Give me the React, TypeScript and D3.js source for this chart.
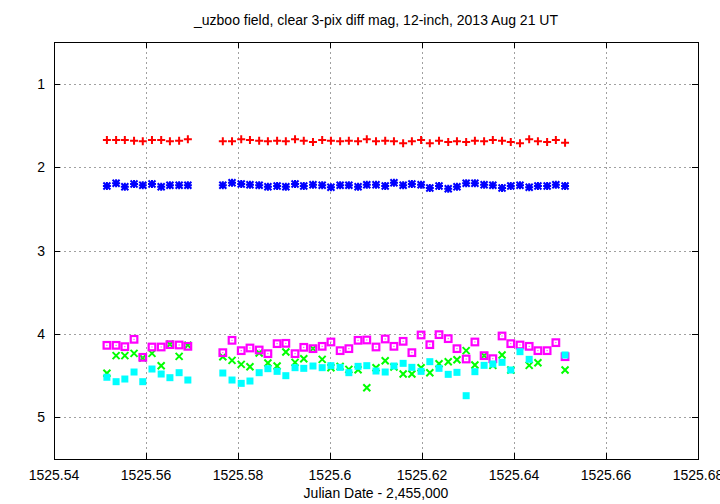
import React from "react";
import * as d3 from "d3";

const title = "_uzboo field, clear 3-pix diff mag, 12-inch, 2013 Aug 21 UT";
const xLabel = "Julian Date - 2,455,000";
const xTicks = [1525.54, 1525.56, 1525.58, 1525.6, 1525.62, 1525.64, 1525.66, 1525.68];
const yTicks = [1, 2, 3, 4, 5];

const times = [
  1525.5515, 1525.5535, 1525.5554, 1525.5574, 1525.5593, 1525.5613, 1525.5633, 1525.5652, 1525.5672, 1525.5691,
  1525.5767, 1525.5787, 1525.5807, 1525.5826, 1525.5846, 1525.5865, 1525.5885, 1525.5904, 1525.5924, 1525.5943,
  1525.5963, 1525.5983, 1525.6002, 1525.6022, 1525.6041, 1525.6061, 1525.608, 1525.61, 1525.612, 1525.6139,
  1525.6159, 1525.6178, 1525.6198, 1525.6217, 1525.6237, 1525.6257, 1525.6276, 1525.6296, 1525.6315, 1525.6335,
  1525.6354, 1525.6374, 1525.6393, 1525.6413, 1525.6433, 1525.6452, 1525.6472, 1525.6491, 1525.6511,
];

const redMag = [
  1.675, 1.675, 1.675, 1.683, 1.691, 1.675, 1.675, 1.691, 1.683, 1.667,
  1.691, 1.691, 1.667, 1.675, 1.683, 1.691, 1.683, 1.691, 1.667, 1.683,
  1.699, 1.675, 1.683, 1.691, 1.683, 1.691, 1.667, 1.691,
  1.683, 1.691, 1.715, 1.691, 1.675, 1.715, 1.683, 1.699, 1.691, 1.699,
  1.683, 1.691, 1.675, 1.683, 1.699, 1.715, 1.667, 1.691, 1.699, 1.675, 1.707,
];

const greenMag: (number | null)[] = [
  4.472, 4.261, 4.261, 4.233, 4.289, 4.233, 4.381, 4.125, 4.269, 4.137,
  4.273, 4.317, 4.365, 4.393, 4.229, 4.349, 4.385, 4.217, 4.341, 4.297, 4.177, 4.305, 4.405,
  4.389, 4.425, 4.429, 4.645, 4.405, 4.321, 4.397, 4.481, 4.481, 4.405, 4.465, 4.357, 4.333,
  4.309, 4.201, 4.373, 4.261, 4.377, 4.253, 4.433, null, 4.377, 4.345, null, null, 4.433,
];

const blueMag = [
  2.227, 2.194, 2.235, 2.203, 2.218, 2.203, 2.235, 2.218, 2.218, 2.218,
  2.218, 2.187, 2.203, 2.211, 2.218, 2.235, 2.227, 2.235, 2.203, 2.227,
  2.211, 2.218, 2.242, 2.218, 2.218, 2.235, 2.211, 2.211,
  2.227, 2.187, 2.218, 2.203, 2.211, 2.251, 2.227, 2.259, 2.235, 2.194,
  2.194, 2.211, 2.218, 2.251, 2.227, 2.218, 2.242, 2.227, 2.227, 2.211, 2.227,
];

const magentaMag = [
  4.137, 4.137, 4.153, 4.065, 4.281, 4.157, 4.157, 4.129, 4.133, 4.149,
  4.225, 4.077, 4.201, 4.169, 4.193, 4.237, 4.117, 4.113, 4.237, 4.161, 4.177, 4.149, 4.097,
  4.201, 4.177, 4.077, 4.073, 4.157, 4.061, 4.149, 4.089, 4.225, 4.013, 4.129, 4.009, 4.057,
  4.177, 4.301, 4.097, 4.261, 4.297, 4.025, 4.117, 4.133, 4.149, 4.201, 4.201, 4.105, 4.273,
];

const cyanMag: (number | null)[] = [
  4.52, 4.573, 4.541, 4.457, 4.573, 4.421, 4.481, 4.525, 4.465, 4.553,
  4.469, 4.553, 4.593, 4.565, 4.465, 4.417, 4.449, 4.501, 4.405, 4.413, 4.385, 4.405, 4.381,
  4.401, 4.465, 4.389, 4.381, 4.445, 4.457, 4.385, 4.353, 4.401, 4.449, 4.333, 4.413, 4.485,
  4.461, 4.741, 4.453, 4.377, 4.361, 4.341, 4.433, 4.213, 4.305, null, null, null, 4.253,
];

const W = 720;
const H = 504;
const L = 54;
const R = 698;
const T = 42;
const B = 459;
const FONT = "'Liberation Sans', Arial, Helvetica, sans-serif";

export default function App() {
  React.useEffect(() => {
    document.body.style.margin = "0";
  }, []);

  const x = d3.scaleLinear().domain([1525.54, 1525.68]).range([L, R]);
  const y = d3.scaleLinear().domain([0.5, 5.5]).range([T, B]);

  const pts = (vals: (number | null)[]) =>
    vals
      .map((v, i) => (v == null ? null : { cx: x(times[i]), cy: y(v), key: i }))
      .filter((p): p is { cx: number; cy: number; key: number } => p !== null);

  const plusPath = (cx: number, cy: number, s: number) =>
    `M${cx - s},${cy}H${cx + s}M${cx},${cy - s}V${cy + s}`;
  const crossPath = (cx: number, cy: number, s: number) =>
    `M${cx - s},${cy - s}L${cx + s},${cy + s}M${cx - s},${cy + s}L${cx + s},${cy - s}`;

  const tick = 6;

  return (
    <svg width={W} height={H} style={{ position: "absolute", left: 0, top: 0, background: "#fff" }}>
      <rect x={0} y={0} width={W} height={H} fill="#fff" />
      {/* grid */}
      <g stroke="#a0a0a0" strokeWidth={1} strokeDasharray="2,3" fill="none">
        {xTicks.slice(1, -1).map((t) => (
          <line key={"gx" + t} x1={Math.round(x(t)) + 0.5} x2={Math.round(x(t)) + 0.5} y1={T} y2={B} />
        ))}
        {yTicks.map((t) => (
          <line key={"gy" + t} x1={L} x2={R} y1={Math.round(y(t)) + 0.5} y2={Math.round(y(t)) + 0.5} />
        ))}
      </g>
      {/* ticks */}
      <g stroke="#000" strokeWidth={1}>
        {xTicks.map((t) => {
          const px = Math.round(x(t)) + 0.5;
          return (
            <g key={"tx" + t}>
              <line x1={px} x2={px} y1={B} y2={B - tick} />
              <line x1={px} x2={px} y1={T} y2={T + tick} />
            </g>
          );
        })}
        {yTicks.map((t) => {
          const py = Math.round(y(t)) + 0.5;
          return (
            <g key={"ty" + t}>
              <line x1={L} x2={L + tick} y1={py} y2={py} />
              <line x1={R} x2={R - tick} y1={py} y2={py} />
            </g>
          );
        })}
      </g>
      <rect x={L + 0.5} y={T + 0.5} width={R - L} height={B - T} fill="none" stroke="#000" strokeWidth={1} />
      {/* labels */}
      <g fontFamily={FONT} fontSize={14} fill="#000">
        {xTicks.map((t) => (
          <text key={"lx" + t} x={x(t)} y={B + 21} textAnchor="middle">
            {String(t)}
          </text>
        ))}
        {yTicks.map((t) => (
          <text key={"ly" + t} x={L - 9} y={y(t) + 5} textAnchor="end">
            {String(t)}
          </text>
        ))}
        <text x={(L + R) / 2} y={498} textAnchor="middle">
          {xLabel}
        </text>
        <text x={(L + R) / 2} y={25} textAnchor="middle">
          {title}
        </text>
      </g>
      {/* series 1: red plus */}
      <g stroke="#ff0000" strokeWidth={2} fill="none">
        {pts(redMag).map((p) => (
          <path key={p.key} d={plusPath(p.cx, p.cy, 4)} />
        ))}
      </g>
      {/* series 2: green cross */}
      <g stroke="#00ff00" strokeWidth={2} fill="none">
        {pts(greenMag).map((p) => (
          <path key={p.key} d={crossPath(p.cx, p.cy, 3.5)} />
        ))}
      </g>
      {/* series 3: blue star */}
      <g stroke="#0000ff" strokeWidth={2} fill="none">
        {pts(blueMag).map((p) => (
          <path key={p.key} d={plusPath(p.cx, p.cy, 4) + crossPath(p.cx, p.cy, 3.5)} />
        ))}
      </g>
      {/* series 4: magenta open square */}
      <g>
        {pts(magentaMag).map((p) => (
          <g key={p.key}>
            <rect x={p.cx - 3.3} y={p.cy - 3.3} width={6.6} height={6.6} fill="none" stroke="#ff00ff" strokeWidth={2.2} />
            <rect x={p.cx - 0.5} y={p.cy - 0.5} width={1} height={1} fill="#ff00ff" />
          </g>
        ))}
      </g>
      {/* series 5: cyan filled square */}
      <g fill="#00ffff">
        {pts(cyanMag).map((p) => (
          <rect key={p.key} x={p.cx - 3.5} y={p.cy - 3.5} width={7} height={7} />
        ))}
      </g>
    </svg>
  );
}
